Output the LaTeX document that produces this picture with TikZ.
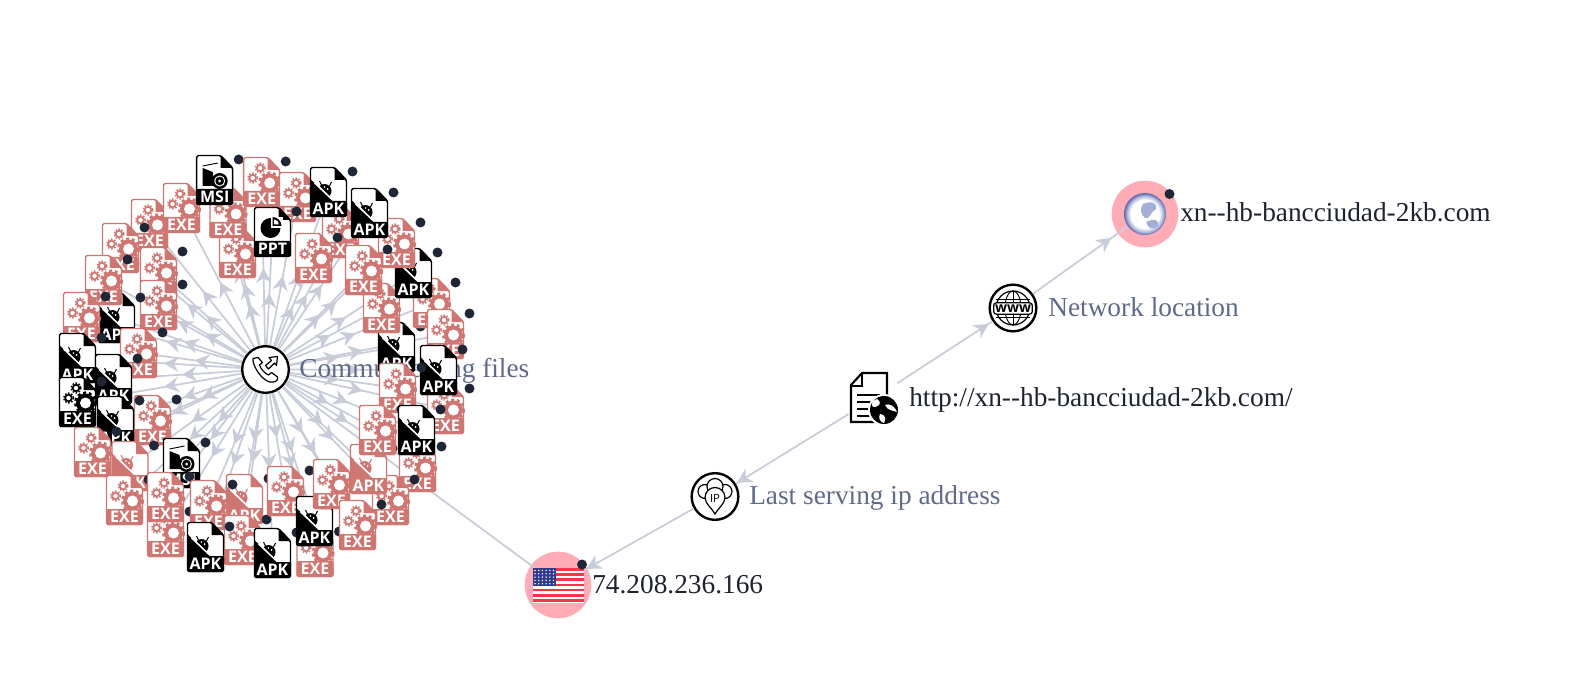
\documentclass[tikz,border=0pt]{standalone}
\usepackage{fontspec}
\setmainfont{Liberation Serif}
\newfontfamily\iconfont{Open Sans}
\usetikzlibrary{arrows.meta,decorations.markings}

\definecolor{edgegrey}{HTML}{C8CCD9}
\definecolor{halopink}{HTML}{FFACB7}
\definecolor{filered}{HTML}{CF7672}
\definecolor{dotnavy}{HTML}{1F2737}
\definecolor{labelslate}{HTML}{5F6A8A}
\definecolor{nameink}{HTML}{1E2330}
\definecolor{flagred}{HTML}{FF3347}
\definecolor{flagblue}{HTML}{2F3A8E}
\definecolor{globeblue}{HTML}{5A63AB}
\definecolor{globeland}{HTML}{A5AFD5}
\pgfdeclareradialshading{globeglow}{\pgfpointorigin}{color(0bp)=(white);color(17bp)=(white);color(22bp)=(globeland);color(25bp)=(globeblue);color(50bp)=(globeblue)}

% glyphs that sit inside a file icon, drawn around the centre of the icon
\newcommand{\glyphEXE}[1]{
\fill [#1] (8,1) circle (9.5);
\draw [#1,line width=1.9pt,dash pattern=on 2.2pt off 2.1pt] (8,1) circle (10.3);
\fill [white] (8,1) circle (5.5);
\foreach \gx/\gy in {-1.5/-14,-9/-4} {
  \draw [#1,line width=1.3pt] (\gx,\gy) circle (3.3);
  \draw [#1,line width=1pt,dash pattern=on 1.2pt off 1.2pt] (\gx,\gy) circle (5);
}
}
\newcommand{\glyphAPK}[1]{
\fill [#1] (-18,-12.8) -- (8,12) -- (-18,12) -- cycle;
\fill [#1] (1,4) arc (45:-135:7) -- cycle;
\draw [#1,line width=0.8pt] (1,-6) -- (3,-10) (-7,-7) -- (-9,-11);
\fill [white] (-1,-3) circle (1);
\fill [white] (-4,-5) circle (0.9);
\draw [white,line width=0.9pt] (-14,-9) -- (6,10);
}
\newcommand{\glyphMSI}[1]{
\fill [#1] (-12,-12) -- (-2,-8) -- (0,6) -- (-12,6) -- cycle;
\draw [#1,line width=0.7pt] (-12,-14) -- (3,-17);
\fill [#1] (5,1) circle (8);
\draw [white,line width=0.7pt] (5,1) circle (5);
\fill [white] (5,1) circle (1.5);
}
\newcommand{\glyphPPT}[1]{
\fill [#1] (-2,-4) circle (10);
\fill [white] (-2,-4) -- (-2,-15) -- (10,-15) -- (10,-4) -- cycle;
\fill [#1] (0,-6) -- (0,-15) arc (-90:0:9) -- cycle;
\fill [white] (1.5,-7.5) -- (1.5,-12.5) arc (-90:0:5) -- cycle;
}

\tikzset{
  edgeline/.style={draw=edgegrey,line width=1.3pt},
  tipmark/.style={postaction={decorate},decoration={markings,mark=at position #1 with {\arrow{Stealth[length=11pt,width=11.5pt,inset=3.5pt]}}}},
  ringnode/.style={circle,draw=black,fill=white,line width=1.8pt,minimum size=35pt,inner sep=0pt},
  halonode/.style={circle,fill=halopink,minimum size=50pt,inner sep=0pt},
  fileword/.style={text=white,font=\iconfont\bfseries\fontsize{12}{12}\selectfont,inner sep=0pt},
  namelabel/.style={anchor=base west,inner sep=0pt,text=nameink,font=\fontsize{20.5}{24}\selectfont},
  relationlabel/.style={anchor=base west,inner sep=0pt,text=labelslate,font=\fontsize{20.5}{24}\selectfont},
  pics/fileicon/.style 2 args={code={
    \tikzset{y=-0.75pt}
    \draw [#2,fill=white,line width=1.1pt,rounded corners=1.2pt] (-18,-24.5) -- (6,-24.5) -- (18,-12) -- (18,24.5) -- (-18,24.5) -- cycle;
    \fill [#2] (6,-24.5) -- (18,-12) -- (6,-12) -- cycle;
    \csname glyph#1\endcsname{#2}
    \fill [#2,rounded corners=1.2pt] (-18.5,9) rectangle (18.5,25);
    \node [fileword] (-word) at (0,16.5) {#1};
    \fill [dotnavy] (24,-20.5) circle (5);
  }}
}

% kind / colour / x / y, from the back to the front
\def\filelist{EXE/filered/149.5/224,EXE/filered/120.5/248,EXE/filered/237.5/253,EXE/filered/228/213,
EXE/filered/181.5/208,MSI/black/214.7/180,EXE/filered/261.7/182,EXE/filered/297.5/197,PPT/black/272.5/232,
EXE/filered/340.5/233,EXE/filered/313.5/258,APK/black/328.5/192,EXE/filered/158.5/272,EXE/filered/158.5/305,
APK/black/116.5/318,EXE/filered/103.5/280,EXE/filered/81.5/317,APK/black/77.5/358,EXE/filered/138.5/353,
APK/black/113.5/379,EXE/black/77.5/402,EXE/filered/152.5/420,APK/black/115.5/421,EXE/filered/92.5/452,
APK/filered/130/466,MSI/black/181.5/463,EXE/filered/124.5/500,EXE/filered/165.5/532,EXE/filered/165.5/497,
APK/filered/244.5/499,EXE/filered/208.5/505,EXE/filered/242.5/540,APK/black/205.5/547,APK/black/272.5/553,
EXE/filered/285.5/491,EXE/filered/315/552,APK/black/314.5/521,EXE/filered/331.5/484,EXE/filered/417.5/467,
EXE/filered/390.5/500,APK/filered/368.5/469,EXE/filered/357.5/525,APK/black/396.5/347,EXE/filered/381.5/308,
EXE/filered/431.5/303,APK/black/413.5/273,EXE/filered/396.5/243,EXE/filered/363.5/270,APK/black/369.5/213,
EXE/filered/445.5/334,EXE/filered/445.5/409,APK/black/438.5/370,EXE/filered/397.5/388,EXE/filered/377.5/430,
APK/black/416.5/430}

\begin{document}
\begin{tikzpicture}[x=0.75pt,y=0.75pt,yscale=-1,xscale=1]
\useasboundingbox (0,0) rectangle (1584,684);

% Halo Nodes
\node [halonode] (flaghalo) at (558,585) {};
\node [halonode] (domainhalo) at (1145,214) {};
\coordinate (flagc) at (558,585);
\coordinate (globec) at (1145,214);

% Relation Nodes
\node [ringnode] (hub) at (265.5,369.5) {};
\node [ringnode] (ipnode) at (715,496.5) {};
\node [ringnode] (wwwnode) at (1013,308) {};
\node [minimum width=36pt,minimum height=39pt,inner sep=0pt] (urlnode) at (873,399) {};

%Straight Lines
\foreach \k/\c/\x/\y [count=\i] in \filelist {
  \coordinate (leaf\i) at (\x,\y);
  \pgfmathsetmacro\tipat{(veclen(\x-265.5,\y-369.5)/2-17)*0.75}
  \draw [edgeline,tipmark=\tipat pt] (hub) -- (leaf\i);
}
\draw [edgeline] (hub) -- (flagc);
\draw [edgeline,tipmark=0.79] (ipnode) -- (flagc);
\draw [edgeline,tipmark=0.99] (urlnode) -- (ipnode);
\draw [edgeline,tipmark=0.96] (urlnode) -- (wwwnode);
\draw [edgeline,tipmark=0.70] (wwwnode) -- (globec);

% Text Node
\node [relationlabel] (hublabel) at (299,377) {Communicating files};

% File Icons
\foreach \k/\c/\x/\y [count=\i] in \filelist {
  \pic (icon\i) at (\x,\y) {fileicon={\k}{\c}};
}

% Flag
\fill [white] (532.5,568) rectangle (584,602.5);
\foreach \s in {0,...,6} {
  \fill [flagred] (532.5,568+5.2*\s) rectangle (584,568+5.2*\s+2.6);
}
\fill [flagblue] (532.5,568) rectangle (556,586);
\foreach \sx in {0,...,5} {
  \foreach \sy in {0,...,4} {
    \fill [white] (535+3.7*\sx,570.5+3.3*\sy) circle (0.8);
  }
}
\fill [dotnavy] (582,564.5) circle (5);

% Globe
\shade [shading=globeglow] (globec) circle (21);
\fill [globeland] (1143,204) .. controls (1152,200) and (1158,204) .. (1156,209) .. controls (1150,212) and (1150,220) .. (1145,218) .. controls (1140,214) and (1140,208) .. (1143,204) -- cycle;
\fill [globeland] (1146,222) .. controls (1154,218) and (1160,220) .. (1158,226) .. controls (1152,231) and (1148,228) .. (1146,222) -- cycle;
\fill [dotnavy] (1169.5,194) circle (5);

% Phone Icon
\draw [line width=0.9pt,fill=white,line join=round] (253,358.5) .. controls (252,364) and (260,379) .. (269.5,382) .. controls (275,383) and (279,380) .. (277.5,377) -- (271.5,372.5) -- (268.5,375) .. controls (264,373) and (261,369) .. (259.5,365) -- (262.5,362.5) -- (258,357.5) -- cycle;
\draw [line width=0.9pt,fill=white,line join=round] (277.5,356.5) -- (269,357.5) -- (271.5,360.5) -- (265.5,365.5) -- (268.5,369) -- (274.5,363) -- (276.5,365.5) -- cycle;

% IP Icon
\draw [line width=0.9pt,fill=white] (705,491.5) circle (7);
\draw [line width=0.9pt,fill=white] (725,491.5) circle (7);
\draw [line width=0.9pt,fill=white] (715,486.5) circle (8);
\draw [line width=0.9pt,fill=white] (715,514) .. controls (712,508) and (705,504) .. (705,497.5) arc (180:360:10) .. controls (725,504) and (718,508) .. (715,514) -- cycle;
\node [inner sep=0pt,font=\iconfont\fontsize{8.5}{9}\selectfont] (iptext) at (715,498) {IP};

% WWW Icon
\draw [line width=0.9pt] (1013,308) circle (17);
\draw [line width=0.7pt] (1013,308) ellipse (8 and 17);
\draw [line width=0.7pt] (996,299) -- (1030,299) (996,317) -- (1030,317) (1013,291) -- (1013,325);
\node [draw=black,fill=white,line width=0.9pt,rounded corners=2pt,minimum width=29pt,minimum height=8.5pt,inner sep=0pt,font=\iconfont\bfseries\fontsize{10.5}{8}\selectfont] (wwwtext) at (1013,308.5) {www};

% Page Icon
\draw [line width=1.6pt,fill=white] (862,373) -- (887,373) -- (887,422) -- (851,422) -- (851,385) -- cycle;
\draw [line width=1.2pt] (862,374) -- (862,386) -- (851,386);
\draw [line width=1.6pt] (857,395) -- (880,395) (857,402) -- (874,402) (857,409) -- (872,409) (857,416) -- (872,416);
\fill [white] (884,410) circle (16);
\fill [black] (884,410) circle (14);
\fill [white] (877,399) .. controls (882,402) and (880,406) .. (875,407) .. controls (872,408) and (871,404) .. (873,401) -- cycle;
\fill [white] (885,405) .. controls (889,403) and (895,406) .. (897,412) .. controls (892,410) and (888,411) .. (885,405) -- cycle;
\fill [white] (880,414) .. controls (884,414) and (887,418) .. (884,423) .. controls (880,422) and (878,418) .. (880,414) -- cycle;

% Text Node
\node [namelabel] (flaglabel) at (592,593.5) {74.208.236.166};
\node [relationlabel] (iplabel) at (749,504) {Last serving ip address};
\node [namelabel] (urllabel) at (909,406) {http://xn-{}-hb-bancciudad-2kb.com/};
\node [relationlabel] (wwwlabel) at (1048,316) {Network location};
\node [namelabel] (domainlabel) at (1180,222) {xn-{}-hb-bancciudad-2kb.com};

\end{tikzpicture}
\end{document}
